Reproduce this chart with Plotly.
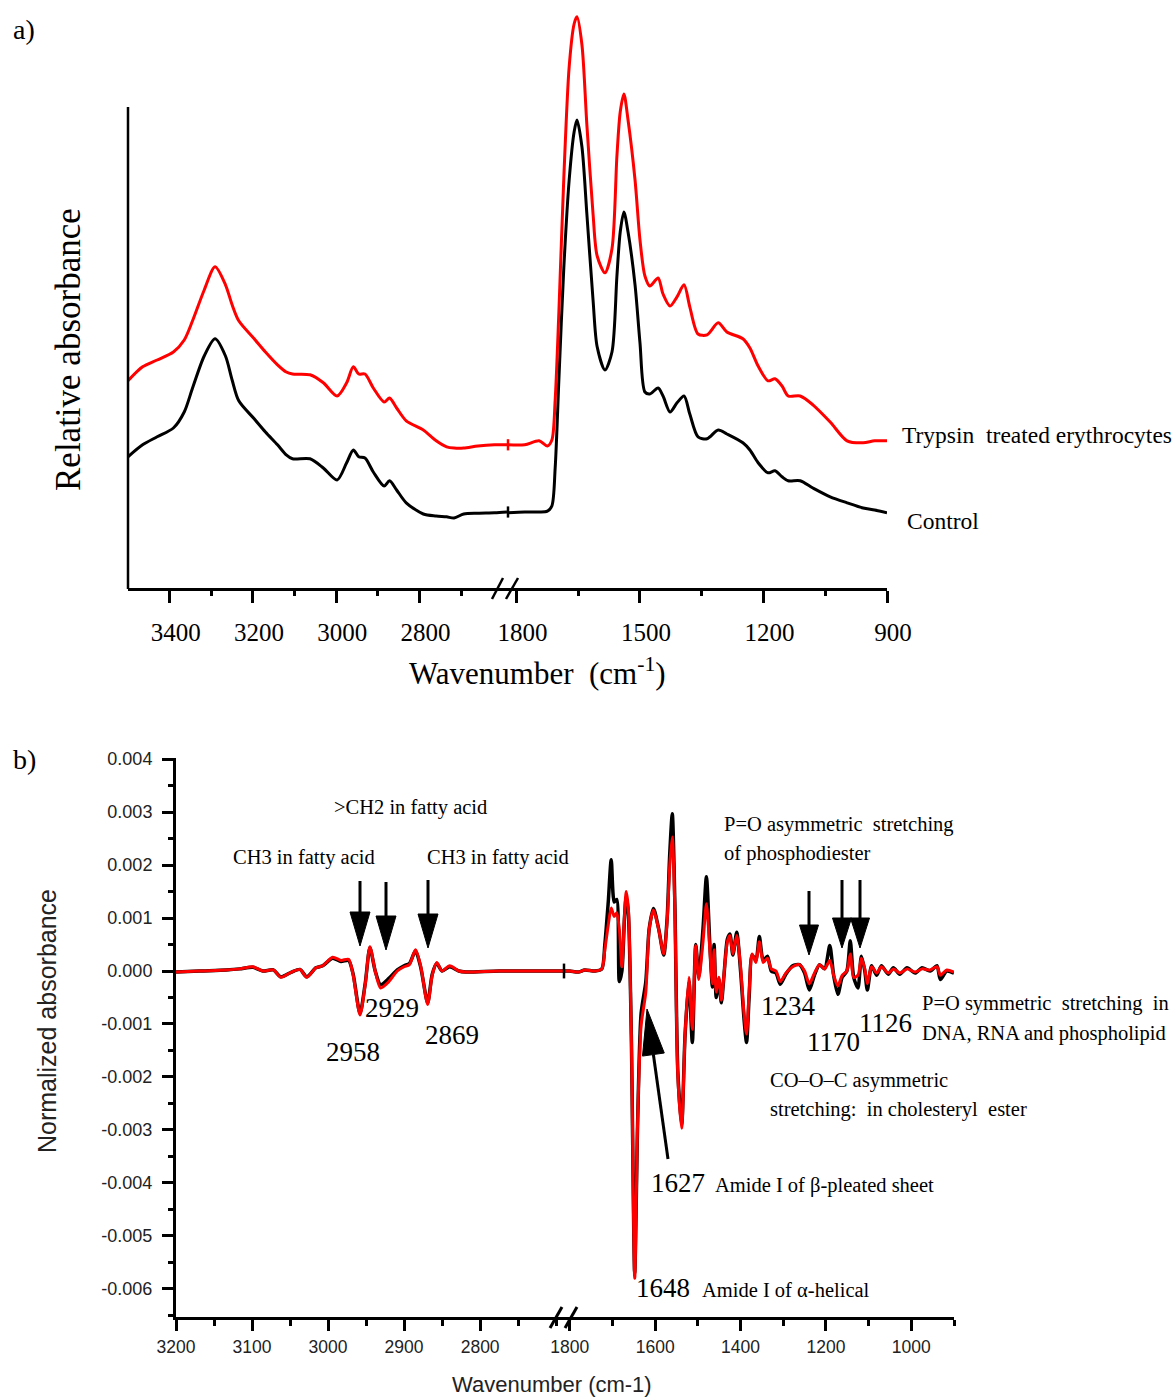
import math
import plotly.graph_objects as go

W, H = 1174, 1399
def px(x): return x / W
def py(y): return 1 - y / H

SERIF = "Liberation Serif, Times New Roman, serif"
SANS = "Liberation Sans, Arial, sans-serif"

# ---------------- Panel a data (relative absorbance, arbitrary units) ----------------
a_left_wn = [3500, 3465, 3430, 3391, 3365, 3345, 3317, 3291, 3266, 3250, 3234, 3197, 3170, 3141,
             3120, 3105, 3063, 3031, 2998, 2975, 2959, 2946, 2931, 2911, 2885, 2872, 2855, 2832,
             2791, 2760, 2735, 2717, 2694, 2660, 2620, 2590]
a_left_control = [0.328, 0.358, 0.378, 0.400, 0.440, 0.500, 0.580, 0.623, 0.580, 0.520, 0.468, 0.423,
                  0.390, 0.358, 0.333, 0.323, 0.323, 0.300, 0.270, 0.313, 0.345, 0.328, 0.325, 0.290,
                  0.255, 0.268, 0.245, 0.213, 0.185, 0.180, 0.178, 0.175, 0.185, 0.187, 0.188, 0.190]
a_left_trypsin = [0.518, 0.553, 0.570, 0.590, 0.620, 0.668, 0.745, 0.803, 0.758, 0.708, 0.668, 0.623,
                  0.590, 0.558, 0.540, 0.535, 0.533, 0.513, 0.480, 0.513, 0.553, 0.535, 0.535, 0.500,
                  0.465, 0.475, 0.450, 0.418, 0.395, 0.368, 0.353, 0.350, 0.350, 0.355, 0.358, 0.358]

a_right_wn = [1823, 1780, 1745, 1725, 1714, 1706, 1697, 1685, 1672, 1660, 1653, 1641, 1629, 1614, 1604,
              1585, 1568, 1556, 1548, 1539, 1529, 1512, 1500, 1488, 1476, 1456, 1444, 1427, 1410, 1393,
              1379, 1359, 1337, 1310, 1289, 1250, 1233, 1213, 1189, 1172, 1155, 1140, 1111, 1080, 1038,
              997, 958, 930, 900]
a_right_control = [0.188, 0.190, 0.190, 0.192, 0.205, 0.300, 0.520, 0.800, 1.020, 1.140, 1.170, 1.103,
                   0.935, 0.720, 0.603, 0.545, 0.590, 0.780, 0.890, 0.940, 0.890, 0.758, 0.613, 0.490,
                   0.485, 0.500, 0.480, 0.440, 0.463, 0.480, 0.435, 0.378, 0.373, 0.395, 0.385, 0.363,
                   0.345, 0.313, 0.288, 0.293, 0.278, 0.268, 0.268, 0.250, 0.228, 0.213, 0.200, 0.195, 0.188]
a_right_trypsin = [0.358, 0.358, 0.368, 0.355, 0.370, 0.470, 0.690, 1.025, 1.303, 1.410, 1.428, 1.358,
                   1.158, 0.935, 0.830, 0.788, 0.848, 1.080, 1.190, 1.235, 1.170, 1.020, 0.870, 0.780,
                   0.755, 0.775, 0.735, 0.705, 0.728, 0.758, 0.703, 0.635, 0.633, 0.663, 0.640, 0.623,
                   0.600, 0.555, 0.518, 0.523, 0.505, 0.480, 0.480, 0.458, 0.415, 0.368, 0.363, 0.368, 0.368]

a_left_ticks = [3400, 3200, 3000, 2800]
a_left_minor = [3300, 3100, 2900, 2700]
a_right_ticks = [1800, 1500, 1200, 900]
a_right_minor = [1650, 1350, 1050]

# ---------------- Panel b data (normalized absorbance, 2nd derivative) ----------------
b_left_wn = [3200, 3169, 3134, 3116, 3099, 3086, 3072, 3062, 3048, 3037, 3028, 3016, 3007, 2994, 2983,
             2973, 2967, 2958, 2951, 2945, 2938, 2931, 2920, 2909, 2900, 2893, 2885, 2878, 2869, 2863,
             2857, 2850, 2840, 2828, 2819, 2775, 2691]
b_left_trypsin = [-0.00002, 0, 0.00002, 0.00004, 0.00008, 0, 0.00002, -0.00012, -0.00002, 0.00003,
                  -0.00012, 0.00006, 0.0001, 0.00026, 0.0002, 0.00022, -0.00008, -0.00083, -0.00024,
                  0.00046, 0, -0.00032, -0.0002, 0, 0.00008, 0.00012, 0.0004, 0.00008, -0.00063,
                  -0.00008, 0.00016, 0, 0.0001, 0, -0.00002, 0, 0]
b_left_control = [-0.00002, 0, 0.00002, 0.00004, 0.00007, 0, 0.00002, -0.00011, -0.00002, 0.00003,
                  -0.00011, 0.00006, 0.0001, 0.00024, 0.00018, 0.0002, -0.00006, -0.0008, -0.00022,
                  0.00044, 0, -0.00026, -0.00014, 0.00002, 0.0001, 0.00014, 0.00038, 0.00006, -0.0006,
                  -0.00006, 0.00014, 0, 0.00008, 0, -0.00002, 0, 0]

b_right_wn = [1816, 1800, 1780, 1765, 1741, 1725, 1718, 1710, 1703, 1696, 1690, 1684, 1678, 1672, 1668,
              1663, 1656, 1648, 1641, 1633, 1622, 1614, 1604, 1592, 1580, 1572, 1566, 1560, 1554, 1547,
              1538, 1530, 1521, 1513, 1505, 1498, 1488, 1480, 1472, 1466, 1462, 1457, 1451, 1445, 1439,
              1431, 1425, 1418, 1409, 1400, 1392, 1386, 1380, 1373, 1364, 1356, 1347, 1337, 1328, 1317,
              1307, 1294, 1278, 1262, 1250, 1239, 1227, 1215, 1203, 1191, 1182, 1172, 1162, 1151, 1143,
              1135, 1125, 1117, 1109, 1103, 1093, 1081, 1070, 1054, 1042, 1027, 1010, 991, 975, 956,
              940, 932, 917, 900]
b_right_trypsin = [0, 0, -0.00002, 0.00002, 0, 0.00004, 0.0004, 0.00087, 0.00119, 0.00103, 0.0011,
                   0.00079, 0.00008, 0.00103, 0.0015, 0.00119, -0.00119, -0.0058, -0.00277, -0.00103,
                   -0.0004, 0.00079, 0.00115, 0.00079, 0.00032, 0.00095, 0.00198, 0.00253, 0.00119,
                   -0.00198, -0.00297, -0.00119, -0.00012, -0.0011, 0.00048, -0.00016, 0.00055, 0.00127,
                   0.0004, -0.00024, 0.0004, -0.0004, -0.00012, -0.00055, -0.00008, 0.00055, 0.00067,
                   0.00032, 0.00067, 0.00008, -0.00079, -0.00119, -0.0004, 0.00032, 0.00016, 0.00055,
                   0.00016, 0.00024, 0.00004, 0, -0.0002, -0.00004, 0.00008, 0.00012, 0, -0.00024,
                   -0.00004, 0.00012, 0.00004, 0.0002, -0.00008, -0.00028, -0.00008, 0, 0.00032,
                   -0.00012, -0.00008, 0.00024, 0.00004, -0.00024, 0.00008, -0.00004, 0.00008, -0.00004,
                   0.00004, -0.00004, 0.00004, -0.00002, 0.00004, 0.00002, 0.00008, -0.00008, 0.00002,
                   -0.00002]
b_right_control = [0, 0, -0.00002, 0.00002, 0, 0.00004, 0.0005, 0.0013, 0.0021, 0.0013, 0.00135,
                   -0.0002, 0.0, 0.001, 0.0014, 0.0011, -0.0012, -0.0057, -0.0028, -0.0008,
                   -0.0002, 0.0008, 0.00118, 0.0008, 0.0003, 0.001, 0.0022, 0.00297, 0.0013,
                   -0.0019, -0.0029, -0.0012, -0.0002, -0.00135, 0.0005, -0.0001, 0.0008, 0.00178,
                   0.0005, -0.0003, 0.0005, -0.0005, -0.00015, -0.0006, -0.0001, 0.0006, 0.0007,
                   0.0003, 0.00073, 0.0, -0.0009, -0.00135, -0.0005, 0.0003, 0.0002, 0.00065,
                   0.0002, 0.00028, 0.0, -0.00004, -0.00025, -0.00006, 0.0001, 0.00012, -0.00004, -0.00036,
                   -0.00008, 0.00012, 0.00004, 0.00048, -0.00008, -0.00044, -0.00012, 0, 0.00057,
                   -0.00012, -0.00032, 0.00028, 0.0, -0.00036, 0.0001, -0.00008, 0.0001, -0.00006,
                   0.00006, -0.00006, 0.00006, -0.00004, 0.00006, 0.0, 0.0001, -0.00016, 0.0,
                   -0.00004]

b_left_ticks = [3200, 3100, 3000, 2900, 2800]
b_right_ticks = [1800, 1600, 1400, 1200, 1000]
b_y_ticks = [0.004, 0.003, 0.002, 0.001, 0.0, -0.001, -0.002, -0.003, -0.004, -0.005, -0.006]
b_y_ticktext = ["0.004", "0.003", "0.002", "0.001", "0.000", "-0.001", "-0.002", "-0.003",
                "-0.004", "-0.005", "-0.006"]

RED = "#ff0000"
BLACK = "#000000"

fig = go.Figure()

# panel a traces
for xs, ys, xa, col in ((a_left_wn, a_left_control, "x", BLACK), (a_right_wn, a_right_control, "x2", BLACK),
                        (a_left_wn, a_left_trypsin, "x", RED), (a_right_wn, a_right_trypsin, "x2", RED)):
    fig.add_trace(go.Scatter(x=xs, y=ys, xaxis=xa, yaxis="y", mode="lines", hoverinfo="skip",
                             line=dict(color=col, width=3, shape="spline", smoothing=0.8)))

# panel b traces (red drawn over black)
for xs, ys, xa, col, w in ((b_left_wn, b_left_control, "x3", BLACK, 3.5), (b_right_wn, b_right_control, "x4", BLACK, 3.5),
                           (b_left_wn, b_left_trypsin, "x3", RED, 3), (b_right_wn, b_right_trypsin, "x4", RED, 3)):
    fig.add_trace(go.Scatter(x=xs, y=ys, xaxis=xa, yaxis="y2", mode="lines", hoverinfo="skip",
                             line=dict(color=col, width=w, shape="spline", smoothing=0.7)))

axis_a = dict(showgrid=False, zeroline=False, showline=True, linecolor=BLACK, linewidth=2.5,
              ticks="outside", ticklen=12, tickwidth=2.5, tickcolor=BLACK, automargin=False,
              tickfont=dict(family=SERIF, size=25, color=BLACK), ticklabelstandoff=8, ticklabelshift=-6)
axis_bx = dict(showgrid=False, zeroline=False, showline=True, linecolor=BLACK, linewidth=3,
               ticks="outside", ticklen=11, tickwidth=2.5, tickcolor=BLACK, automargin=False,
               tickfont=dict(family=SANS, size=17.5, color="#222"), ticklabelstandoff=1)
minor_a = dict(ticks="outside", ticklen=5, tickwidth=2.5, tickcolor=BLACK, showgrid=False)
minor_b = dict(ticks="outside", ticklen=6, tickwidth=2.5, tickcolor=BLACK, showgrid=False)

fig.update_layout(
    width=W, height=H, autosize=False,
    margin=dict(l=0, r=0, t=0, b=0, pad=0, autoexpand=False),
    paper_bgcolor="white", plot_bgcolor="white", showlegend=False,
    xaxis=dict(domain=[px(128), px(507)], range=[3500, 2590], anchor="y",
               tickmode="array", tickvals=a_left_ticks,
               minor={**minor_a, "tickmode": "array", "tickvals": a_left_minor}, **axis_a),
    xaxis2=dict(domain=[px(507), px(887)], range=[1823, 900], anchor="y",
                tickmode="array", tickvals=a_right_ticks,
                minor={**minor_a, "tickmode": "array", "tickvals": a_right_minor}, **axis_a),
    yaxis=dict(domain=[py(588), py(12)], range=[0, 1.44], visible=False, automargin=False),
    xaxis3=dict(domain=[px(176), px(563)], range=[3200, 2691], anchor="y2",
                tickmode="array", tickvals=b_left_ticks,
                minor={**minor_b, "dtick": 50, "tick0": 2750}, **axis_bx),
    xaxis4=dict(domain=[px(563), px(954)], range=[1816, 900], anchor="y2",
                tickmode="array", tickvals=b_right_ticks,
                minor={**minor_b, "dtick": 100, "tick0": 900}, **axis_bx),
    yaxis2=dict(domain=[py(1317), py(758)], range=[-0.00653, 0.00402], anchor="x3", automargin=False,
                tickmode="array", tickvals=b_y_ticks, ticktext=b_y_ticktext,
                showgrid=False, zeroline=False, showline=True, linecolor=BLACK, linewidth=3,
                ticks="outside", ticklen=11, tickwidth=2.5, tickcolor=BLACK,
                tickfont=dict(family=SANS, size=18, color="#222"), ticklabelstandoff=6,
                minor=dict(ticks="outside", ticklen=5, tickwidth=2.5, tickcolor=BLACK, dtick=0.0005, tick0=0)),
)

shapes = []
# panel a y-axis line (shorter than the plot area)
shapes.append(dict(type="line", xref="paper", yref="paper", x0=px(128), x1=px(128), y0=py(589), y1=py(107),
                   line=dict(color=BLACK, width=2.5)))

def slash(x0, y0, x1, y1, w):
    return dict(type="line", xref="paper", yref="paper", x0=px(x0), y0=py(y0), x1=px(x1), y1=py(y1),
                line=dict(color=BLACK, width=w))
# axis break marks
shapes += [slash(492, 599, 503, 578, 2.5), slash(506, 599, 518, 578, 2.5)]
shapes += [slash(550, 1328, 562, 1307, 3), slash(565, 1328, 577, 1307, 3)]
# small break ticks on the curves
for val, col in ((a_left_control[-1], BLACK), (a_left_trypsin[-1], RED)):
    shapes.append(dict(type="line", xref="paper", yref="y", x0=px(508), x1=px(508), y0=val - 0.014, y1=val + 0.014,
                       line=dict(color=col, width=2.5)))
shapes.append(dict(type="line", xref="paper", yref="y2", x0=px(564), x1=px(564),
                   y0=b_left_control[-1] - 0.00014, y1=b_left_control[-1] + 0.00014, line=dict(color=BLACK, width=2.5)))

def arrow(tx, ty, sx, sy, head_len, head_w, shaft_w=3):
    dx, dy = tx - sx, ty - sy
    L = math.hypot(dx, dy)
    ux, uy = dx / L, dy / L
    bx, by = tx - ux * head_len, ty - uy * head_len
    nx, ny = -uy, ux
    p1 = (bx + nx * head_w / 2, by + ny * head_w / 2)
    p2 = (bx - nx * head_w / 2, by - ny * head_w / 2)
    out = [dict(type="line", xref="paper", yref="paper", x0=px(sx), y0=py(sy), x1=px(bx), y1=py(by),
                line=dict(color=BLACK, width=shaft_w))]
    path = f"M {px(tx)},{py(ty)} L {px(p1[0])},{py(p1[1])} L {px(p2[0])},{py(p2[1])} Z"
    out.append(dict(type="path", xref="paper", yref="paper", path=path, fillcolor=BLACK,
                    line=dict(color=BLACK, width=1)))
    return out

shapes += arrow(360, 946, 360, 881, 34, 20)
shapes += arrow(386, 950, 386, 882, 34, 20)
shapes += arrow(428, 948, 428, 880, 34, 20)
shapes += arrow(809, 955, 809, 891, 30, 19)
shapes += arrow(842, 948, 842, 880, 30, 19)
shapes += arrow(860, 948, 860, 880, 30, 19)
shapes += arrow(647, 1009, 668, 1159, 46, 22)

fig.update_layout(shapes=shapes)

ann = []
def text(t, x, y, size, family=SERIF, xanchor="center", angle=0, color=BLACK):
    ann.append(dict(text=t, x=px(x), y=py(y), xref="paper", yref="paper", showarrow=False,
                    xanchor=xanchor, yanchor="middle", textangle=angle,
                    font=dict(family=family, size=size, color=color)))

# panel a
text("a)", 11, 30, 28, xanchor="left")
text("Relative absorbance", 68, 350, 35, angle=-90)
text("Wavenumber  (cm<sup>-1</sup>)", 537, 672, 31)
text("Trypsin  treated erythrocytes", 900, 435, 23.5, xanchor="left")
text("Control", 905, 521, 23.5, xanchor="left")

# panel b
text("b)", 11, 760, 28, xanchor="left")
text("Normalized absorbance", 47, 1021, 25, family=SANS, angle=-90, color="#222")
text("Wavenumber (cm-1)", 552, 1384, 22, family=SANS, color="#222")
text("&gt;CH2 in fatty acid", 410, 807, 20.5)
text("CH3 in fatty acid", 304, 858, 20.5)
text("CH3 in fatty acid", 498, 858, 20.5)
text("2958", 353, 1052, 27)
text("2929", 392, 1008, 27)
text("2869", 452, 1035, 27)
text("P=O asymmetric  stretching", 722, 824, 20.5, xanchor="left")
text("of phosphodiester", 722, 853, 20.5, xanchor="left")
text("1234", 788, 1006, 27)
text("1170", 833, 1042, 27)
text("1126", 885, 1023, 27)
text("P=O symmetric  stretching  in", 920, 1003, 20.5, xanchor="left")
text("DNA, RNA and phospholipid", 920, 1033, 20.5, xanchor="left")
text("CO–O–C asymmetric", 768, 1080, 20.5, xanchor="left")
text("stretching:  in cholesteryl  ester", 768, 1109, 20.5, xanchor="left")
text("1627", 649, 1183, 27, xanchor="left")
text("Amide I of β-pleated sheet", 713, 1185, 20.5, xanchor="left")
text("1648", 634, 1288, 27, xanchor="left")
text("Amide I of α-helical", 700, 1290, 20.5, xanchor="left")

fig.update_layout(annotations=ann)

# remove the default 8px body margin so the figure fills the window exactly
fig.write_html("out.html", config={"responsive": False, "displayModeBar": False},
               post_script="document.body.style.margin='0px'; document.body.style.overflow='hidden';")
